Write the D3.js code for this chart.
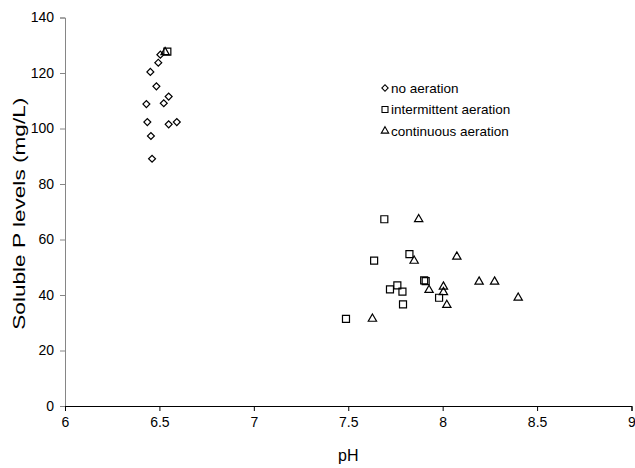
<!DOCTYPE html>
<html>
<head>
<meta charset="utf-8">
<script src="https://cdn.jsdelivr.net/npm/d3@7"></script>
<style>
  body { margin: 0; background: #fff; }
  svg { display: block; font-family: "Liberation Sans", Arial, sans-serif; }
</style>
</head>
<body>
<div id="chart"></div>
<script>
// pH vs soluble P, three aeration treatments
const noAerationPH = [6.505, 6.494, 6.452, 6.484, 6.549, 6.523, 6.431, 6.436, 6.549, 6.592, 6.455, 6.461];
const noAerationP  = [126.6, 123.7, 120.4, 115.2, 111.5, 109.1, 108.8, 102.3, 101.5, 102.3, 97.3, 89.1];

const intermittentPH = [6.542, 7.691, 7.637, 7.824, 7.902, 7.910, 7.721, 7.760, 7.787, 7.790, 7.981, 7.488];
const intermittentP  = [127.7, 67.3, 52.4, 54.7, 45.3, 45.0, 42.0, 43.5, 41.2, 36.6, 39.0, 31.4];

const continuousPH = [6.530, 7.873, 7.849, 8.075, 7.928, 8.004, 8.004, 8.022, 7.628, 8.193, 8.275, 8.400];
const continuousP  = [127.5, 67.3, 52.3, 53.8, 41.8, 43.0, 41.0, 36.4, 31.4, 44.8, 44.8, 39.0];

const seriesNames = ["no aeration", "intermittent aeration", "continuous aeration"];
const xTicks = [6, 6.5, 7, 7.5, 8, 8.5, 9];
const yTicks = [0, 20, 40, 60, 80, 100, 120, 140];

const width = 635, height = 468;
const margin = {left: 65, right: 3.5, top: 17.5, bottom: 62};

const svg = d3.select("#chart").append("svg")
    .attr("width", width)
    .attr("height", height)

const x = d3.scaleLinear().domain([6, 9]).range([margin.left, width - margin.right]);
const y = d3.scaleLinear().domain([0, 140]).range([height - margin.bottom, margin.top]);

// axes
let yAxis = svg.append("g")
    .attr("transform", `translate(${margin.left},0)`)
    .call(d3.axisLeft(y).tickValues(yTicks).tickSize(5).tickPadding(6))
yAxis.select(".domain").attr("stroke", "#868686")
yAxis.selectAll(".tick line").attr("stroke", "#868686")
yAxis.selectAll("text").attr("font-size", 14).attr("fill", "#000")

let xAxis = svg.append("g")
    .attr("transform", `translate(0,${height - margin.bottom})`)
    .call(d3.axisBottom(x).tickValues(xTicks).tickFormat(d3.format("")).tickSize(5).tickPadding(6))
xAxis.select(".domain").attr("stroke", "#000")
xAxis.selectAll(".tick line").attr("stroke", "#000")
xAxis.selectAll("text").attr("font-size", 14).attr("fill", "#000")

// titles
svg.append("text")
    .attr("x", (margin.left + width - margin.right) / 2)
    .attr("y", 461)
    .attr("text-anchor", "middle")
    .attr("font-size", 16)
    .text("pH")

svg.append("text")
    .attr("transform", `translate(25,${(y(0) + y(140)) / 2 + 2}) rotate(-90)`)
    .attr("text-anchor", "middle")
    .attr("font-size", 16)
    .attr("textLength", 232)
    .attr("lengthAdjust", "spacingAndGlyphs")
    .text("Soluble P levels (mg/L)")

// marker shapes
const shapes = [
    {sym: d3.symbolSquare, size: 24, rot: 45},
    {sym: d3.symbolSquare, size: 49, rot: 0},
    {sym: d3.symbolTriangle, size: 30, rot: 0}
];

const allSeries = [
    d3.zip(noAerationPH, noAerationP),
    d3.zip(intermittentPH, intermittentP),
    d3.zip(continuousPH, continuousP)
];

allSeries.forEach((pts, i) => {
    let s = shapes[i];
    svg.append("g").selectAll("path")
        .data(pts)
        .enter()
        .append("path")
        .attr("d", d3.symbol().type(s.sym).size(s.size))
        .attr("transform", d => `translate(${x(d[0])},${y(d[1])}) rotate(${s.rot})`)
        .attr("fill", "none")
        .attr("stroke", "#000")
        .attr("stroke-width", 1.2)
})

// legend
const legendSizes = [20, 36, 24];
let legend = svg.append("g").attr("transform", "translate(385,88)")
seriesNames.forEach((name, i) => {
    let row = legend.append("g").attr("transform", `translate(0,${i * 21.5})`)
    row.append("path")
        .attr("d", d3.symbol().type(shapes[i].sym).size(legendSizes[i]))
        .attr("transform", `rotate(${shapes[i].rot})`)
        .attr("fill", "none")
        .attr("stroke", "#000")
        .attr("stroke-width", 1.1)
    row.append("text")
        .attr("x", 6)
        .attr("y", 0)
        .attr("dy", "0.35em")
        .attr("font-size", 13.5)
        .text(name)
})
</script>
</body>
</html>
